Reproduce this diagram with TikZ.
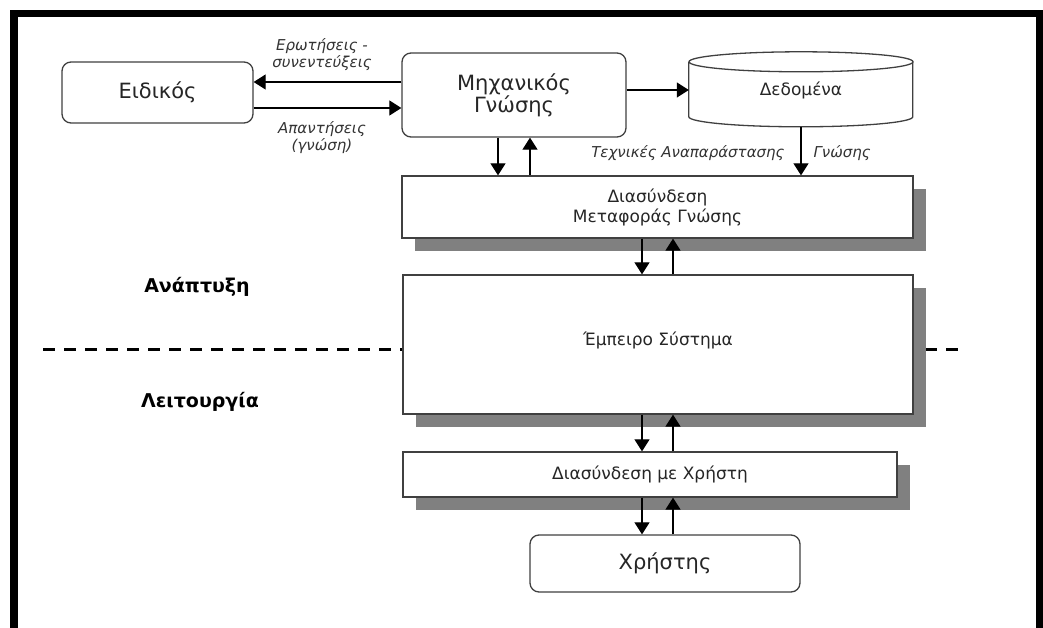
\documentclass[tikz,border=0pt]{standalone}
\usepackage{fontspec}
\setmainfont{DejaVu Sans}
\usetikzlibrary{arrows.meta,shadows}
\begin{document}
\begin{tikzpicture}[x=1pt,y=-1pt,line join=miter,>={Triangle[length=12pt,width=15pt]},
  font=\fontsize{17}{20}\selectfont,
  rbox/.style={draw=black!75,line width=1.3pt,rounded corners=9pt,fill=white,text=black!85,align=center,inner sep=0pt,
    font=\fontsize{21}{22}\selectfont},
  sbox/.style={draw=black!75,line width=1.3pt,fill=white,text=black!85,align=center,inner sep=0pt,
    drop shadow={shadow xshift=13pt,shadow yshift=-13pt,fill=black!50,opacity=1}},
  arr/.style={->,line width=1.2pt},
  lbl/.style={font=\fontsize{15}{17}\selectfont\itshape,text=black!80,align=center},
  phase/.style={font=\fontsize{19}{22}\selectfont\bfseries}]
\useasboundingbox (0,0) rectangle (1043,628);
% frame
\draw[line width=7.5pt] (14,628) -- (14,13.5) -- (1039.5,13.5) -- (1039.5,628);
% development / operation
\draw[line width=3pt,dash pattern=on 12pt off 9pt] (43,349) -- (962,349);
\node[phase] (dev) at (197,287) {Ανάπτυξη};
\node[phase] (ops) at (200,402) {Λειτουργία};
% top row
\node[rbox,minimum width=191pt,minimum height=61pt] (expert) at (157.5,92.5) {Ειδικός};
\node[rbox,minimum width=224pt,minimum height=84pt] (engineer) at (514,95) {Μηχανικός\\Γνώσης};
\node[minimum width=224pt,minimum height=74pt,inner sep=0pt,text=black!85] (data) at (801,90) {\raisebox{-5pt}{Δεδομένα}};
\draw[black!75,line width=1.3pt] (data.north west) ++(0,9) -- ++(0,55)
  arc[start angle=180,end angle=0,x radius=112,y radius=10] -- ++(0,-55);
\draw[black!75,line width=1.3pt] (data.north) ++(0,9) ellipse[x radius=112,y radius=10];
% stacked blocks
\node[sbox,minimum width=511pt,minimum height=62pt] (transfer) at (657.5,207) {Διασύνδεση\\Μεταφοράς Γνώσης};
\node[sbox,minimum width=510pt,minimum height=139pt] (expsys) at (658,344.5) {\raisebox{12pt}{Έμπειρο Σύστημα}};
\node[sbox,minimum width=494pt,minimum height=45pt] (ui) at (650,474.5) {Διασύνδεση με Χρήστη};
\node[rbox,minimum width=270pt,minimum height=57pt] (user) at (665,563.5) {Χρήστης};
% connectors
\draw[arr] ([yshift=13pt]engineer.west) -- ([yshift=13pt]engineer.west -| expert.east);
\draw[arr] ([yshift=-13pt]engineer.west -| expert.east) -- ([yshift=-13pt]engineer.west);
\draw[arr] (data.west -| engineer.east) -- (data.west);
\draw[arr] ([xshift=-16pt]engineer.south) -- ([xshift=-16pt]engineer.south |- transfer.north);
\draw[arr] ([xshift=16pt]engineer.south |- transfer.north) -- ([xshift=16pt]engineer.south);
\draw[arr] (data.south) -- (data.south |- transfer.north);
\foreach \a/\b in {transfer/expsys,expsys/ui,ui/user}{
  \draw[arr] ([xshift=-16pt]expsys.center |- \a.south) -- ([xshift=-16pt]expsys.center |- \b.north);
  \draw[arr] ([xshift=15pt]expsys.center |- \b.north) -- ([xshift=15pt]expsys.center |- \a.south);
}
% labels
\node[lbl] (askl) at (322,55) {Ερωτήσεις -\\συνεντεύξεις};
\node[lbl] (ansl) at (322,138) {Απαντήσεις\\(γνώση)};
\node[lbl,anchor=east] (techl) at (788,153) {Τεχνικές Αναπαράστασης};
\node[lbl,anchor=west] (knowl) at (810,153) {Γνώσης};
\end{tikzpicture}
\end{document}
